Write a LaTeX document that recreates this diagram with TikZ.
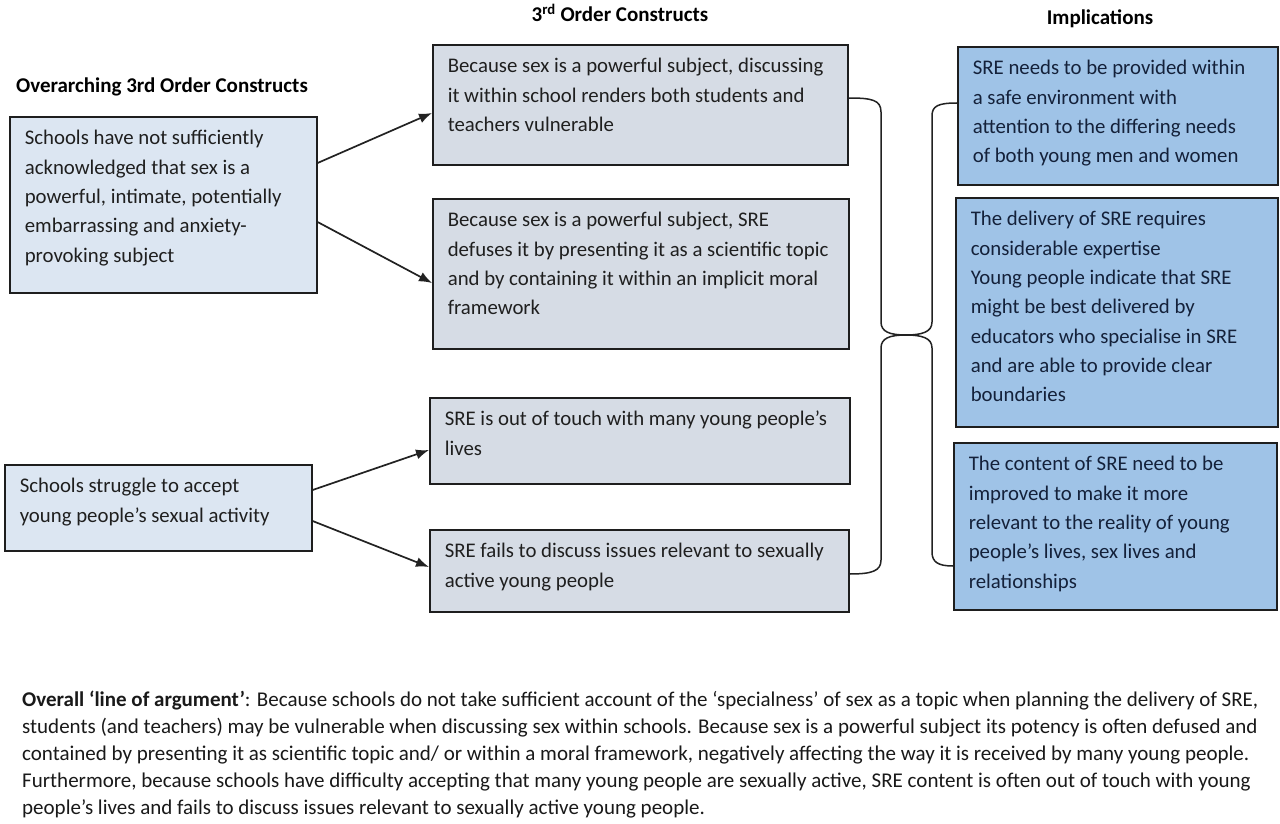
\documentclass[tikz,border=0pt]{standalone}
\usepackage{fontspec}
\setmainfont{Carlito}
\usetikzlibrary{calc,arrows.meta}
\definecolor{lfill}{HTML}{DCE6F2}
\definecolor{mfill}{HTML}{D6DCE5}
\definecolor{rfill}{HTML}{9FC3E7}
\definecolor{boxline}{HTML}{1E1E1E}
\definecolor{linecol}{HTML}{222222}
\definecolor{rtext}{HTML}{14213A}
\newcommand{\bxtext}[3]{\parbox[c][#2][t]{#1}{\begin{tabular}[t]{@{}l@{}}#3\end{tabular}}}
\tikzset{
  boxbase/.style={draw=boxline, line width=1.6pt, inner xsep=15pt, inner ysep=7.5pt,
    anchor=north west, font=\fontsize{20.8}{29.3}\selectfont, text=black!88},
  lbox/.style={boxbase, fill=lfill},
  mbox/.style={boxbase, fill=mfill},
  rbox/.style={boxbase, fill=rfill, text=rtext},
  hdr/.style={font=\bfseries\fontsize{21}{25}\selectfont, inner sep=0pt},
  arr/.style={draw=linecol, line width=1.7pt, -{Latex[length=13pt,width=10pt]}},
  brace/.style={draw=linecol, line width=1.5pt},
}
\begin{document}
\begin{tikzpicture}[x=1pt,y=-1pt]
\useasboundingbox (0,0) rectangle (1280,824);
\fill[white] (0,0) rectangle (1280,824);

% headers
\node[hdr] (h1) at (162,87) {Overarching 3rd Order Constructs};
\node[hdr] (h2) at (620,13) {3\textsuperscript{rd} Order Constructs};
\node[hdr] (h3) at (1100,19) {Implications};

% left boxes
\node[lbox] (L1) at (9,116) {\bxtext{277pt}{161pt}{Schools have not sufficiently\\acknowledged that sex is a\\powerful, intimate, potentially\\embarrassing and anxiety-\\provoking subject}};
\node[lbox] (L2) at (4,464) {\bxtext{277pt}{71pt}{Schools struggle to accept\\young people’s sexual activity}};

% middle boxes
\node[mbox] (M1) at (432,44) {\bxtext{385pt}{105pt}{Because sex is a powerful subject, discussing\\it within school renders both students and\\teachers vulnerable}};
\node[mbox] (M2) at (432,198) {\bxtext{386pt}{135pt}{Because sex is a powerful subject, SRE\\defuses it by presenting it as a scientific topic\\and by containing it within an implicit moral\\framework}};
\node[mbox] (M3) at (429,397) {\bxtext{390pt}{71pt}{SRE is out of touch with many young people’s\\lives}};
\node[mbox] (M4) at (429,529) {\bxtext{389pt}{67pt}{SRE fails to discuss issues relevant to sexually\\active young people}};

% right boxes
\node[rbox] (R1) at (957,46) {\bxtext{290pt}{123pt}{SRE needs to be provided within\\a safe environment with\\attention to the differing needs\\of both young men and women}};
\node[rbox] (R2) at (955,197) {\bxtext{292pt}{214pt}{The delivery of SRE requires\\considerable expertise\\Young people indicate that SRE\\might be best delivered by\\educators who specialise in SRE\\and are able to provide clear\\boundaries}};
\node[rbox] (R3) at (953,442) {\bxtext{293pt}{152pt}{The content of SRE need to be\\improved to make it more\\relevant to the reality of young\\people’s lives, sex lives and\\relationships}};

% arrows
\draw[arr] ($(L1.north east)+(0,47)$) -- ($(M1.north west)+(0,69)$);
\draw[arr] ($(L1.north east)+(0,106)$) -- ($(M2.north west)+(0,85)$);
\draw[arr] ($(L2.north east)+(0,26)$) -- ($(M3.north west)+(0,53)$);
\draw[arr] ($(L2.north east)+(0,57)$) -- ($(M4.north west)+(0,38)$);

% braces
\coordinate (tip) at (906,335);
\draw[brace] ($(M1.north east)+(0,54)$) .. controls (872,98) and (881,100) .. (881,112)
  -- (881,322) .. controls (881,332) and (890,335) .. (tip)
  .. controls (890,335) and (881,338) .. (881,348)
  -- (881,560) .. controls (881,571) and (872,574) .. ($(M4.north east)+(0,45)$);
\draw[brace] ($(R1.north west)+(0,57)$) .. controls (938,103) and (932,106) .. (932,116)
  -- (932,322) .. controls (932,332) and (922,335) .. (tip)
  .. controls (922,335) and (932,338) .. (932,348)
  -- (932,552) .. controls (932,562) and (938,566) .. ($(R3.north west)+(0,124)$);

% bottom text
\node[anchor=north west, inner sep=0pt, font=\fontsize{21}{27}\selectfont, text=black!90] (arg) at (22,687)
{\begin{tabular}[t]{@{}l@{}}\textbf{Overall ‘line of argument’}: Because schools do not take sufficient account of the ‘specialness’ of sex as a topic when planning the delivery of SRE,\\
students (and teachers) may be vulnerable when discussing sex within schools. Because sex is a powerful subject its potency is often defused and\\
contained by presenting it as scientific topic and/ or within a moral framework, negatively affecting the way it is received by many young people.\\
Furthermore, because schools have difficulty accepting that many young people are sexually active, SRE content is often out of touch with young\\
people’s lives and fails to discuss issues relevant to sexually active young people.\end{tabular}};
\end{tikzpicture}
\end{document}
